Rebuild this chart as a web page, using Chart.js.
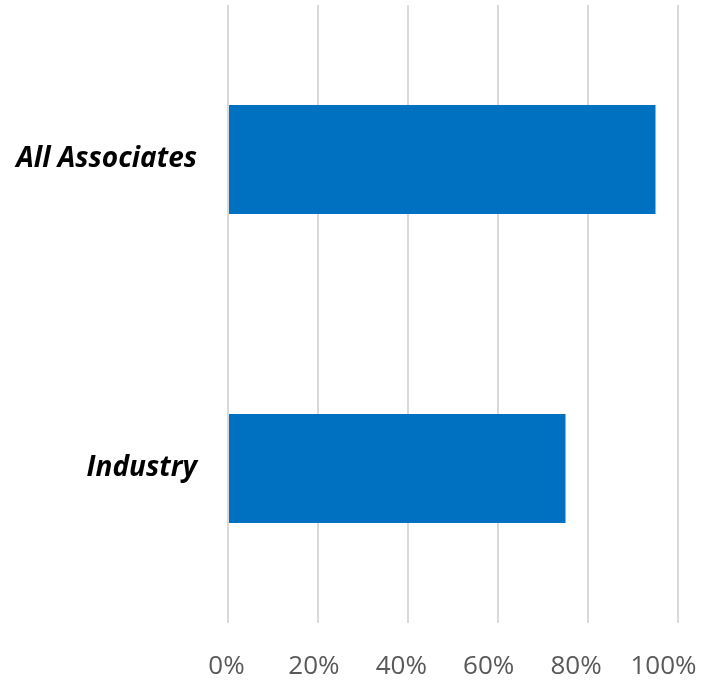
<!DOCTYPE html>
<html>
<head>
<meta charset="utf-8">
<script src="https://cdn.jsdelivr.net/npm/chart.js@4.4.1/dist/chart.umd.min.js"></script>
<style>
  html, body { margin: 0; padding: 0; background: #ffffff; }
  #wrap { width: 718px; height: 686px; }
</style>
</head>
<body>
<div id="wrap"><canvas id="c" width="718" height="686"></canvas></div>
<script>
// Share of respondents per group (percent)
const categories = ['All Associates', 'Industry'];
const values = [95, 75];
const tickValues = [0, 20, 40, 60, 80, 100];

// keep the plot area fixed: no extra room reserved for overhanging labels
function noLabelPadding(scale) {
  scale.paddingTop = 0;
  scale.paddingBottom = 0;
  scale.paddingLeft = 0;
  scale.paddingRight = 0;
}

const ctx = document.getElementById('c').getContext('2d');
new Chart(ctx, {
  type: 'bar',
  data: {
    labels: categories,
    datasets: [{
      data: values,
      backgroundColor: '#0070C0',
      borderWidth: 0,
      categoryPercentage: 1.0,
      barPercentage: 0.353
    }]
  },
  options: {
    indexAxis: 'y',
    responsive: false,
    animation: false,
    layout: { padding: { top: 5, right: 40, bottom: 0, left: 0 } },
    plugins: { legend: { display: false }, tooltip: { enabled: false } },
    scales: {
      // value axis carrying the bars and the vertical gridlines
      x: {
        position: 'bottom',
        min: 0,
        max: 100,
        afterBuildTicks: (scale) => { scale.ticks = tickValues.map(v => ({ value: v })); },
        grid: { color: '#d9d9d9', lineWidth: 2, drawTicks: false },
        border: { display: false },
        ticks: { display: false },
        afterFit: (scale) => { scale.height = 0; noLabelPadding(scale); }
      },
      // percentage labels, set slightly tighter than the gridlines
      xLabels: {
        type: 'linear',
        position: 'bottom',
        min: 0.34,
        max: 103.32,
        afterBuildTicks: (scale) => { scale.ticks = tickValues.map(v => ({ value: v })); },
        grid: { display: false, drawTicks: false },
        border: { display: false },
        ticks: {
          color: '#595959',
          font: { family: 'Open Sans', size: 26 },
          padding: 28,
          maxRotation: 0,
          callback: (v) => v + '%'
        },
        afterFit: (scale) => { scale.height = 63; noLabelPadding(scale); }
      },
      y: {
        grid: { display: false, drawTicks: false },
        border: { display: false },
        ticks: {
          color: '#000000',
          font: { family: 'Open Sans', size: 28, weight: 'bold', style: 'italic' },
          padding: 31
        },
        afterFit: (scale) => { scale.width = 228; noLabelPadding(scale); }
      }
    }
  }
});
</script>
</body>
</html>
